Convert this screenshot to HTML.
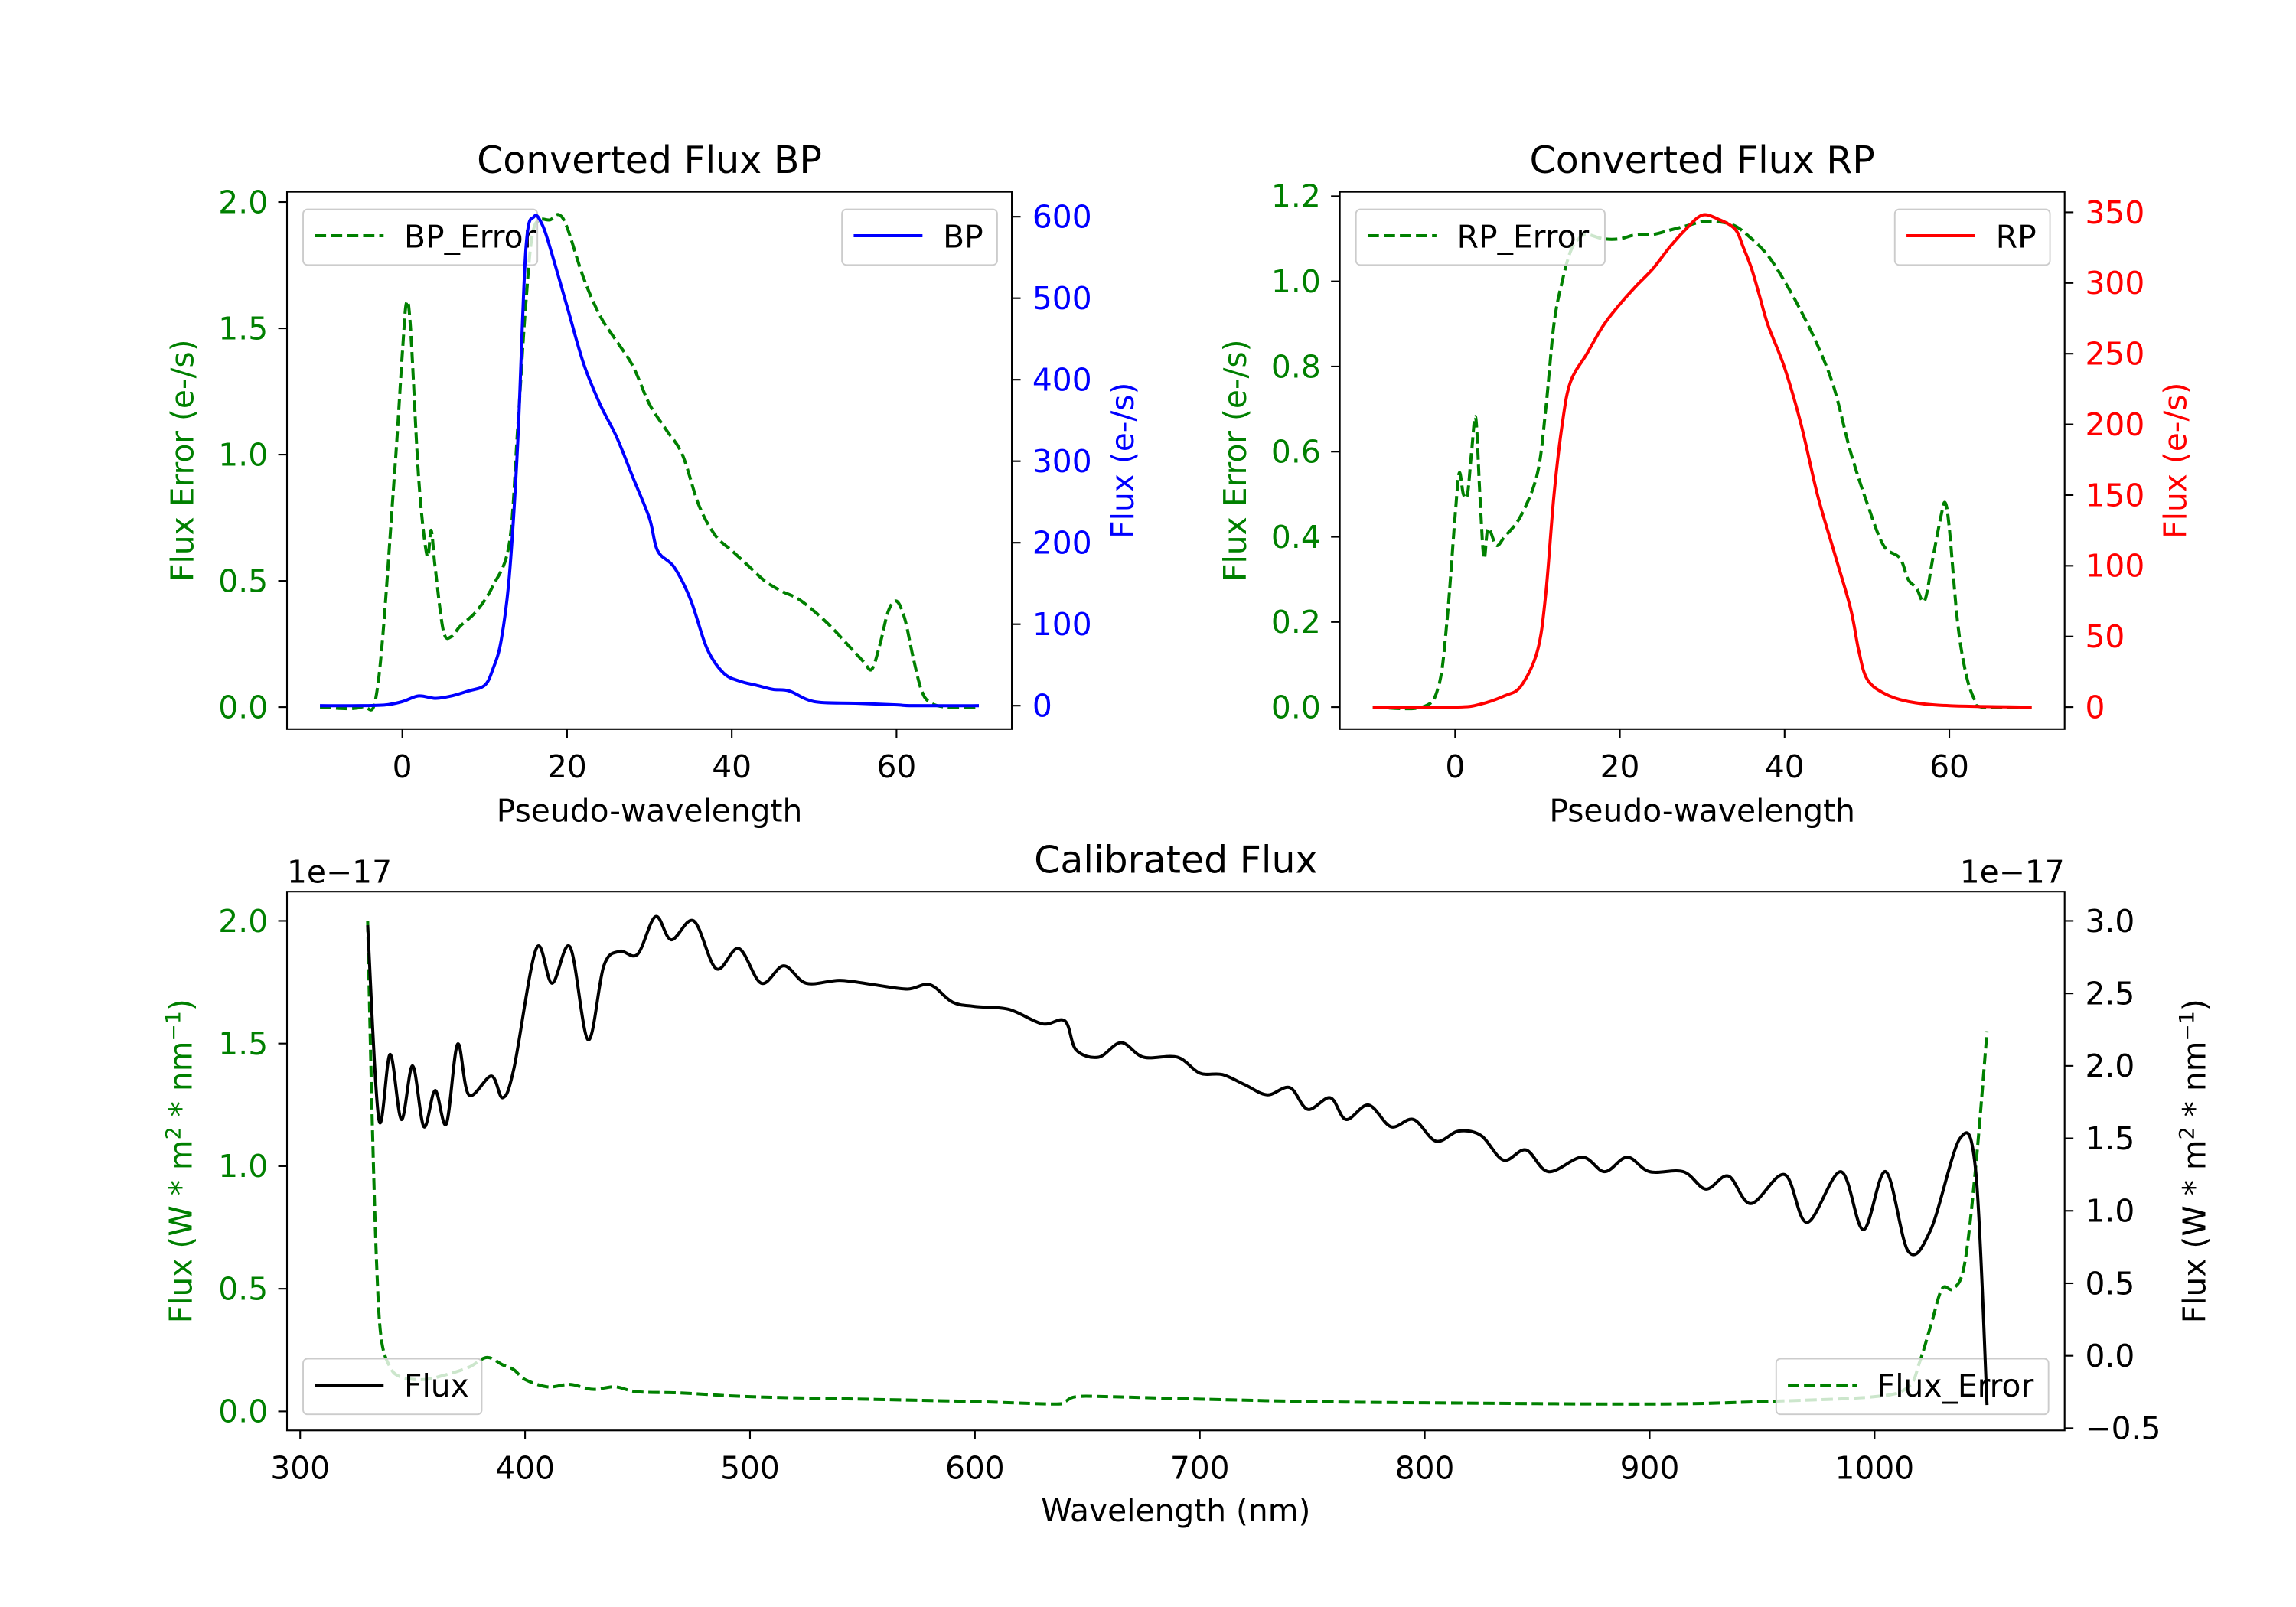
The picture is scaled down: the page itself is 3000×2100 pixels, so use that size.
<!DOCTYPE html>
<html><head><meta charset="utf-8">
<style>
html,body{margin:0;padding:0;background:#fff;}
svg{display:block;font-family:"DejaVu Sans","Liberation Sans",sans-serif;}
</style></head>
<body>
<svg id="fig" width="3000" height="2100" viewBox="0 0 1568 1097.6" xmlns="http://www.w3.org/2000/svg">
<rect width="1568" height="1097.6" fill="#fff"/>
</svg>
<script>
// ---- BP panel data ----
const bpX = [-10,-5,-2,0,2,4,6,8,10,11,12,13,14,15,16,17,18,20,22,24,26,28,30,31,33,35,37,39,41,43,45,47,50,55,60,62,70];
const bpFlux = [0,0,1,5,12,9,12,18,25,45,80,160,320,560,600,590,560,490,420,370,330,280,230,190,170,130,70,40,30,25,20,18,5,3,1,0,0];
const bpErrX = [-10,-5,-3,-1,0,0.5,1,2,3,3.5,4,5,6,7,9,11,13,14,15,16,18,19,20,22,24,26,28,30,32,34,36,38,40,42,44,46,48,50,52,54,56,57,58,59,60,61,62,63,64,66,70];
const bpErr = [0,0,0.08,0.9,1.4,1.6,1.5,0.9,0.6,0.7,0.55,0.3,0.28,0.32,0.38,0.48,0.65,1.1,1.6,1.9,1.93,1.95,1.9,1.7,1.55,1.45,1.35,1.2,1.1,1.0,0.8,0.68,0.62,0.56,0.5,0.46,0.43,0.38,0.32,0.25,0.18,0.15,0.25,0.38,0.42,0.35,0.2,0.07,0.02,0,0];
// ---- RP panel data ----
const rpX = [-10,0,3,6,8,10,11,12,13,14,16,18,20,22,24,26,28,30,32,34,35,36,37,38,40,42,44,46,48,49,50,52,55,60,70];
const rpFlux = [0,0,2,8,15,40,80,150,200,230,250,270,285,298,310,325,338,348,345,338,325,310,290,270,240,200,150,110,70,40,20,10,4,1,0];
const rpErrX = [-10,-4,-2,-1,0,0.5,1,1.5,2,2.5,3,3.5,4,5,6,8,10,11,12,13,14,15,16,18,20,22,24,26,28,30,32,34,36,38,40,42,44,46,48,50,52,54,55,56,57,58,59,59.5,60,61,62,63,64,70];
const rpErr = [0,0,0.05,0.2,0.45,0.55,0.5,0.5,0.6,0.68,0.5,0.35,0.42,0.38,0.4,0.45,0.55,0.7,0.9,1.0,1.07,1.1,1.11,1.1,1.1,1.11,1.11,1.12,1.13,1.14,1.14,1.13,1.1,1.06,1.0,0.93,0.85,0.75,0.6,0.48,0.38,0.35,0.3,0.28,0.25,0.35,0.45,0.48,0.42,0.2,0.08,0.02,0,0];
// ---- Calibrated panel data ----
const calW = [330,335,340,345,350,355,360,365,370,375,385,390,395,405,412,420,428,435,442,450,458,465,475,485,495,505,515,525,540,555,570,580,590,600,615,630,640,645,655,665,675,690,700,710,720,730,740,748,758,765,775,785,795,805,815,825,835,845,855,870,880,890,900,915,925,935,945,960,970,985,995,1005,1015,1025,1038,1045,1050];
const calFlux = [2.97,1.63,2.08,1.63,2.0,1.58,1.83,1.6,2.15,1.8,1.93,1.78,1.98,2.81,2.57,2.82,2.18,2.69,2.79,2.77,3.03,2.87,3.0,2.67,2.81,2.57,2.69,2.57,2.59,2.56,2.53,2.56,2.44,2.41,2.39,2.29,2.31,2.11,2.06,2.16,2.06,2.06,1.95,1.94,1.87,1.8,1.85,1.7,1.78,1.63,1.73,1.58,1.63,1.48,1.55,1.52,1.35,1.42,1.27,1.37,1.27,1.37,1.27,1.27,1.15,1.24,1.05,1.25,0.92,1.27,0.87,1.27,0.72,0.87,1.5,1.27,-0.34];
const errW = [330,332,334,336,340,345,355,365,375,383,390,395,400,410,420,430,440,450,470,500,550,600,635,640,645,660,700,750,800,900,950,1000,1015,1020,1025,1030,1035,1040,1045,1050];
const calErr = [2.0,1.2,0.6,0.3,0.18,0.14,0.13,0.15,0.18,0.22,0.19,0.17,0.13,0.1,0.11,0.09,0.1,0.08,0.075,0.06,0.05,0.04,0.03,0.04,0.06,0.06,0.05,0.04,0.035,0.03,0.04,0.06,0.1,0.2,0.35,0.5,0.5,0.6,1.0,1.55];
// tick labels
const pwTicks = [0,20,40,60];
const bpLeftTicks = ["0.0","0.5","1.0","1.5","2.0"];
const bpRightTicks = [0,100,200,300,400,500,600];
const rpLeftTicks = ["0.0","0.2","0.4","0.6","0.8","1.0","1.2"];
const rpRightTicks = [0,50,100,150,200,250,300,350];
const wlTicks = [300,400,500,600,700,800,900,1000];
const calLeftTicks = ["0.0","0.5","1.0","1.5","2.0"];
const calRightTicks = ["−0.5","0.0","0.5","1.0","1.5","2.0","2.5","3.0"];

const NS="http://www.w3.org/2000/svg";
const svg=document.getElementById('fig');
function mk(tag,attrs,parent,text){const e=document.createElementNS(NS,tag);for(const k in attrs)e.setAttribute(k,attrs[k]);if(text!==undefined)e.textContent=text;(parent||svg).appendChild(e);return e;}
function lin(d0,d1,p0,p1){return v=>p0+(v-d0)*(p1-p0)/(d1-d0);}
const FS=21.3, TFS=25.6;

function panel(o){
  const g=mk('g',{});
  
  
  const fr=mk('rect',{x:o.x0,y:o.y0,width:o.x1-o.x0,height:o.y1-o.y0,fill:'none',stroke:'#000','stroke-width':1.1},g);
  
  
  o.xt.forEach(t=>{const px=o.sx(+t);
    mk('line',{x1:px,x2:px,y1:o.y1,y2:o.y1+6,stroke:'#000','stroke-width':1.1},g);
    const tx=mk('text',{x:px,y:o.y1+33,'font-size':FS,'text-anchor':'middle'},g,String(t));
    
    });
  o.lt.forEach(t=>{const py=o.sl(parseFloat(t.replace('−','-')));
    mk('line',{x1:o.x0-6,x2:o.x0,y1:py,y2:py,stroke:'#000','stroke-width':1.1},g);
    const tx=mk('text',{x:o.x0-13,y:py+7.5,'font-size':FS,'text-anchor':'end',fill:o.lc},g,String(t));
    
    });
  o.rt.forEach(t=>{const py=o.sr(parseFloat(String(t).replace('−','-')));
    mk('line',{x1:o.x1,x2:o.x1+6,y1:py,y2:py,stroke:'#000','stroke-width':1.1},g);
    const tx=mk('text',{x:o.x1+14,y:py+7.5,'font-size':FS,'text-anchor':'start',fill:o.rc},g,String(t));
    
    });
  const ti=mk('text',{x:(o.x0+o.x1)/2,y:o.y0-13,'font-size':TFS,'text-anchor':'middle'},g,o.title);
  
  
  const xl=mk('text',{x:(o.x0+o.x1)/2,y:o.y1+o.xOff,'font-size':FS,'text-anchor':'middle'},g,o.xlabel);
  
  
  const yl=mk('text',{transform:`translate(${o.x0-o.lOff},${(o.y0+o.y1)/2}) rotate(-90)`,'font-size':FS,'text-anchor':'middle',fill:o.lc},g);
  yl.innerHTML=o.llabel;
  
  
  const yr=mk('text',{transform:`translate(${o.x1+o.rOff},${(o.y0+o.y1)/2}) rotate(-90)`,'font-size':FS,'text-anchor':'middle',fill:o.rlc},g);
  yr.innerHTML=o.rlabel;
  
  
  return g;
}
function series(g,xs,ys,sx,sy,color,dash,name){
  const P=xs.map((x,i)=>[sx(x),sy(ys[i])]);
  let d='M'+P[0][0].toFixed(2)+','+P[0][1].toFixed(2);
  for(let i=0;i<P.length-1;i++){
    const p0=P[Math.max(i-1,0)],p1=P[i],p2=P[i+1],p3=P[Math.min(i+2,P.length-1)];
    const c1=[p1[0]+(p2[0]-p0[0])/6,p1[1]+(p2[1]-p0[1])/6];
    const c2=[p2[0]-(p3[0]-p1[0])/6,p2[1]-(p3[1]-p1[1])/6];
    d+=' C'+c1[0].toFixed(2)+','+c1[1].toFixed(2)+' '+c2[0].toFixed(2)+','+c2[1].toFixed(2)+' '+p2[0].toFixed(2)+','+p2[1].toFixed(2);
  }
  const p=mk('path',{d:d,fill:'none',stroke:color,'stroke-width':2.1,'stroke-linejoin':'round','stroke-dasharray':dash||'none'},g);
  
  
}
function legend(g,x,y,w,label,color,dash,name){
  const lg=mk('g',{},g);
  
  
  mk('rect',{x:x,y:y,width:w,height:38,rx:3,fill:'#fff','fill-opacity':0.8,stroke:'#ccc','stroke-width':1},lg);
  mk('line',{x1:x+8,x2:x+55,y1:y+18,y2:y+18,stroke:color,'stroke-width':2.1,'stroke-dasharray':dash||'none'},lg);
  mk('text',{x:x+69,y:y+26,'font-size':FS},lg,label);
}
const DASH='7.7,3.3';
// BP
{const o={name:'bp-panel',x0:196,x1:691,y0:131,y1:498,title:'Converted Flux BP',xlabel:'Pseudo-wavelength',
  sx:lin(-14,74,196,691),sl:lin(0,2,483,138),sr:lin(0,600,482,148),xt:pwTicks,lt:bpLeftTicks,rt:bpRightTicks,
  lc:'green',rc:'blue',rlc:'blue',llabel:'Flux Error (e-/s)',rlabel:'Flux (e-/s)',lOff:64,rOff:83,xOff:63};
 const g=panel(o);
 series(g,bpErrX,bpErr,o.sx,o.sl,'green',DASH,'bp-error-line');
 legend(g,207,143,160,'BP_Error','green',DASH,'legend-bp-error');
 series(g,bpX,bpFlux,o.sx,o.sr,'blue',null,'bp-flux-line');
 legend(g,575,143,106,'BP','blue',null,'legend-bp');}
// RP
{const o={name:'rp-panel',x0:915,x1:1410,y0:131,y1:498,title:'Converted Flux RP',xlabel:'Pseudo-wavelength',
  sx:lin(-14,74,915,1410),sl:lin(0,1.2,483,134),sr:lin(0,350,483,145),xt:pwTicks,lt:rpLeftTicks,rt:rpRightTicks,
  lc:'green',rc:'red',rlc:'red',llabel:'Flux Error (e-/s)',rlabel:'Flux (e-/s)',lOff:64,rOff:83,xOff:63};
 const g=panel(o);
 series(g,rpErrX,rpErr,o.sx,o.sl,'green',DASH,'rp-error-line');
 legend(g,926,143,170,'RP_Error','green',DASH,'legend-rp-error');
 series(g,rpX,rpFlux,o.sx,o.sr,'red',null,'rp-flux-line');
 legend(g,1294,143,106,'RP','red',null,'legend-rp');}
// Calibrated
{const sup='<tspan baseline-shift="super" font-size="14">';
 const o={name:'calibrated-panel',x0:196,x1:1410,y0:609,y1:977,title:'Calibrated Flux',xlabel:'Wavelength (nm)',
  sx:lin(300,400,205,358.6),sl:lin(0,2,964,629),sr:lin(0,3,926,629),xt:wlTicks,lt:calLeftTicks,rt:calRightTicks,
  lc:'green',rc:'#000',rlc:'#000',llabel:'Flux (W * m'+sup+'2</tspan> * nm'+sup+'−1</tspan>)',
  rlabel:'Flux (W * m'+sup+'2</tspan> * nm'+sup+'−1</tspan>)',lOff:65,rOff:96,xOff:62};
 const g=panel(o);
 series(g,errW,calErr,o.sx,o.sl,'green',DASH,'flux-error-line');
 legend(g,1213,928,186,'Flux_Error','green',DASH,'legend-flux-error');
 series(g,calW,calFlux,o.sx,o.sr,'#000',null,'flux-line');
 legend(g,207,928,122,'Flux','#000',null,'legend-flux');
 const a=mk('text',{x:196,y:603,'font-size':FS},g,'1e−17');
 
 
 const b=mk('text',{x:1410,y:603,'font-size':FS,'text-anchor':'end'},g,'1e−17');
 
 }
</script>
</body></html>
